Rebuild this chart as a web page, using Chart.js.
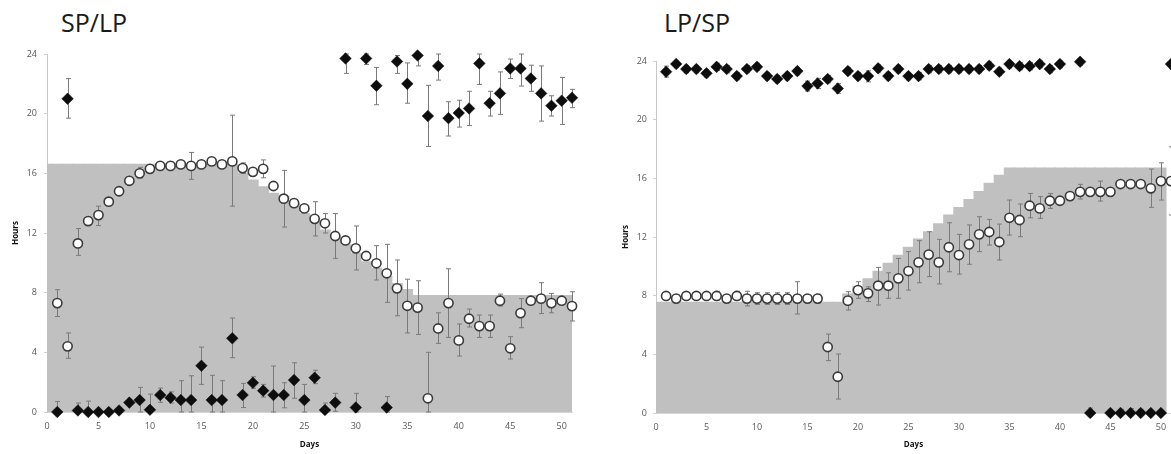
<!DOCTYPE html>
<html>
<head>
<meta charset="utf-8">
<script src="https://cdn.jsdelivr.net/npm/chart.js@4.4.1/dist/chart.umd.min.js"></script>
<style>
  html, body { margin: 0; padding: 0; background: #fff; overflow: hidden; }
  body { width: 1171px; height: 454px; position: relative; overflow: hidden; }
  .ttl { position: absolute; font-family: "Open Sans", sans-serif; font-size: 25px; line-height: 25px; color: #1a1a1a; }
  canvas { position: absolute; top: 0; }
</style>
</head>
<body>
<div class="ttl" style="left:61px; top:9.5px;">SP/LP</div>
<div class="ttl" style="left:664px; top:9.5px;">LP/SP</div>
<canvas id="left" style="left:0px; width:590px; height:454px;" width="590" height="454"></canvas>
<canvas id="right" style="left:600px; width:600px; height:454px;" width="600" height="454"></canvas>
<script>
// ---------- categories ----------
const days = [1,2,3,4,5,6,7,8,9,10,11,12,13,14,15,16,17,18,19,20,21,22,23,24,25,26,27,28,29,30,31,32,33,34,35,36,37,38,39,40,41,42,43,44,45,46,47,48,49,50,51];
const photoDaysLeft = [0,1,2,3,4,5,6,7,8,9,10,11,12,13,14,15,16,17,18,19,20,21,22,23,24,25,26,27,28,29,30,31,32,33,34,35,36,37,38,39,40,41,42,43,44,45,46,47,48,49,50,51];
const photoDaysRight = [0,1,2,3,4,5,6,7,8,9,10,11,12,13,14,15,16,17,18,19,20,21,22,23,24,25,26,27,28,29,30,31,32,33,34,35,36,37,38,39,40,41,42,43,44,45,46,47,48,49,50];
const yTicks = [0,4,8,12,16,20,24];
const xTicks = [0,5,10,15,20,25,30,35,40,45,50];

// ---------- SP/LP (left) ----------
const photoLeft = [16.6,16.6,16.6,16.6,16.6,16.6,16.6,16.6,16.6,16.6,16.6,16.6,16.6,16.6,16.6,16.6,16.6,16.6,16.6,
  16.0,15.55,15.1,14.65,14.45,14.0,13.3,12.8,12.2,11.75,11.2,10.64,10.07,9.63,9.07,8.6,8.2,
  7.8,7.8,7.8,7.8,7.8,7.8,7.8,7.8,7.8,7.8,7.8,7.8,7.8,7.8,7.8,7.8];
const circLeft = [7.3,4.4,11.3,12.8,13.2,14.1,14.8,15.5,16.0,16.3,16.5,16.5,16.6,16.5,16.6,16.8,16.6,16.8,16.35,16.1,
  16.3,15.15,14.3,14.0,13.65,12.95,12.65,11.8,11.5,10.97,10.46,9.97,9.3,8.29,7.12,7.0,0.92,5.6,7.3,4.8,
  6.25,5.76,5.76,7.46,4.27,6.63,7.46,7.6,7.3,7.46,7.1];
const circLeftHi = [8.2,5.3,12.3,13.1,13.8,14.35,15.0,15.75,16.4,16.45,16.65,16.65,16.75,17.4,16.75,16.95,16.75,19.9,16.7,16.25,
  16.9,15.3,16.2,14.15,13.8,14.1,13.3,13.3,11.65,12.47,10.6,11.15,11.24,10.19,8.9,8.8,4.0,6.65,9.6,5.9,
  6.9,6.5,6.5,7.9,5.05,7.6,7.6,8.67,7.95,7.7,8.06];
const circLeftLo = [6.4,3.6,10.5,12.5,12.5,13.85,14.6,15.25,15.7,16.15,16.35,16.35,16.45,15.6,16.45,16.65,16.45,13.8,16.0,15.95,
  15.7,15.0,12.4,13.85,13.5,11.8,12.0,10.3,11.35,9.52,10.3,8.85,7.35,6.45,5.3,5.2,0.0,4.6,5.0,3.75,
  5.7,5.0,5.0,7.1,3.55,5.65,7.3,6.6,6.65,7.25,6.1];
const diaLeft = [0,21.0,0.1,0,0,0,0.1,0.63,0.8,0.15,1.14,0.96,0.8,0.8,3.1,0.8,0.8,4.94,1.14,1.96,
  1.43,1.14,1.14,2.14,0.8,2.3,0.13,0.63,23.7,0.3,23.7,21.87,0.3,23.5,22.0,23.9,19.84,23.2,19.7,20.04,
  20.35,23.37,20.7,21.36,23.03,23.03,22.36,21.36,20.53,20.87,21.07];
const diaLeftHi = [0.7,22.35,0.6,0.73,0.1,0.1,0.3,0.85,1.65,1.2,1.6,1.35,2.1,2.43,4.35,2.46,2.1,6.3,1.92,2.36,
  1.85,3.08,1.96,3.3,1.85,2.8,0.6,1.25,24.0,1.25,24.0,23.1,1.03,23.9,23.4,24.0,21.9,24.0,20.8,20.9,
  21.5,24.0,21.5,22.8,23.66,24.0,23.25,23.2,21.2,22.43,21.63];
const diaLeftLo = [0,19.7,0,0,0,0,0,0.45,0,0,0.65,0.6,0,0,1.85,0,0,3.64,0.3,1.59,
  1.0,0,0.28,0.92,0,1.9,0,0.05,22.7,0,23.3,20.6,0,22.7,20.7,23.2,17.8,22.25,18.5,19.1,
  19.2,21.96,19.84,19.95,22.36,21.85,21.5,19.5,19.84,19.28,20.4];

// ---------- LP/SP (right) ----------
const photoRight = [7.55,7.55,7.55,7.55,7.55,7.55,7.55,7.55,7.55,7.55,7.55,7.55,7.55,7.55,7.55,7.55,7.55,7.55,7.55,
  8.1,8.6,9.15,9.65,10.2,10.75,11.3,11.85,12.35,12.9,13.5,14.0,14.55,15.1,15.65,16.2,
  16.7,16.7,16.7,16.7,16.7,16.7,16.7,16.7,16.7,16.7,16.7,16.7,16.7,16.7,16.7,16.7];
const circRight = [7.98,7.8,7.98,7.98,7.98,7.98,7.8,7.98,7.8,7.8,7.8,7.8,7.8,7.8,7.8,7.8,4.5,2.47,7.66,8.38,
  8.16,8.68,8.68,9.18,9.68,10.27,10.8,10.27,11.3,10.77,11.5,12.18,12.34,11.66,13.31,13.16,14.13,13.95,14.47,14.47,
  14.79,15.08,15.08,15.08,15.08,15.61,15.61,15.61,15.32,15.81,15.81];
const circRightHi = [8.13,7.95,8.13,8.13,8.13,8.3,8.0,8.3,8.3,8.2,8.2,8.2,8.2,8.95,7.95,8.1,5.38,4.02,8.27,8.95,
  8.6,9.93,9.56,10.54,11.0,11.75,12.36,11.84,12.97,12.18,12.82,13.38,13.2,12.88,14.52,14.25,14.97,14.75,14.97,14.65,
  14.95,15.59,15.25,15.81,15.25,15.75,15.75,15.75,16.63,17.06,18.15];
const circRightLo = [7.83,7.65,7.83,7.83,7.83,7.7,7.6,7.7,7.3,7.4,7.4,7.4,7.4,6.75,7.65,7.5,3.57,0.95,7.02,7.82,
  7.6,7.36,7.82,7.82,8.38,8.88,9.3,8.8,9.63,9.47,10.14,11.0,11.45,10.43,12.13,12.02,13.31,13.27,13.95,14.3,
  14.6,14.59,14.9,14.45,14.9,15.45,15.45,15.45,14.02,14.52,13.5];
const diaRight = [23.27,23.8,23.45,23.45,23.16,23.6,23.45,22.97,23.45,23.6,22.97,22.77,22.97,23.31,22.29,22.47,22.77,22.13,23.31,22.97,
  22.97,23.5,22.97,23.45,22.97,22.97,23.45,23.45,23.45,23.45,23.45,23.45,23.68,23.27,23.79,23.65,23.65,23.79,23.45,23.79,
  null,23.95,0,null,0,0,0,0,0,0,23.79];
const diaRightHi = [23.65,24.0,23.7,23.7,23.4,23.85,23.7,23.22,23.7,23.85,23.22,23.02,23.22,23.56,22.63,22.82,23.02,22.45,23.56,23.22,
  23.33,23.75,23.22,23.7,23.22,23.22,23.7,23.7,23.7,23.7,23.7,23.7,23.93,23.52,24.0,23.9,23.9,24.0,23.7,24.0,
  null,24.0,0.34,null,0.2,0.25,0.3,0.2,0.15,0.15,24.0];
const diaRightLo = [22.9,23.55,23.2,23.2,22.91,23.35,23.2,22.72,23.2,23.35,22.72,22.52,22.72,23.06,21.95,22.12,22.52,21.8,23.06,22.72,
  22.58,23.25,22.72,23.2,22.72,22.72,23.2,23.2,23.2,23.2,23.2,23.2,23.43,23.02,23.54,23.4,23.4,23.54,23.2,23.54,
  null,23.7,0,null,0,0,0,0,0,0,23.54];

// ---------- helpers ----------
const toXY = (xs, ys) => xs.map((x, i) => ({ x: x, y: ys[i] }));

const errorBarPlugin = {
  id: 'errorBars',
  afterDatasetDraw(chart, args) {
    if (args.meta.type !== 'bar') return;
    const ctx = chart.ctx, xs = chart.scales.x, ys = chart.scales.y;
    ctx.save();
    ctx.strokeStyle = '#7a7a7a';
    ctx.lineWidth = 1;
    chart.data.datasets.forEach(ds => {
      if (!ds.errHi) return;
      ds.data.forEach((p, i) => {
        if (p.y == null || ds.errHi[i] == null) return;
        const x = Math.round(xs.getPixelForValue(p.x)) + 0.5;
        const yT = ys.getPixelForValue(ds.errHi[i]);
        const yB = ys.getPixelForValue(ds.errLo[i]);
        ctx.beginPath();
        ctx.moveTo(x, yT); ctx.lineTo(x, yB);
        ctx.moveTo(x - 2.5, yT); ctx.lineTo(x + 2.5, yT);
        ctx.moveTo(x - 2.5, yB); ctx.lineTo(x + 2.5, yB);
        ctx.stroke();
      });
    });
    ctx.restore();
  }
};

function makeChart(id, cfg) {
  const tickFont = { family: '"Open Sans", sans-serif', size: 9 };
  const titleFont = { family: '"Open Sans", sans-serif', size: 8, weight: 'bold' };
  return new Chart(document.getElementById(id), {
    type: 'bar',
    data: {
      datasets: [
        {
          type: 'line', label: 'circles', data: toXY(days, cfg.circ),
          errHi: cfg.circHi, errLo: cfg.circLo,
          showLine: false, pointStyle: 'circle', pointRadius: 4.6,
          pointBackgroundColor: '#ffffff', pointBorderColor: '#3a3a3a', pointBorderWidth: 1.6,
          clip: false, order: 1
        },
        {
          type: 'line', label: 'diamonds', data: toXY(days, cfg.dia),
          errHi: cfg.diaHi, errLo: cfg.diaLo,
          showLine: false, pointStyle: 'rectRot', pointRadius: 5.8,
          pointBackgroundColor: '#0d0d0d', pointBorderColor: '#0d0d0d', pointBorderWidth: 0.5,
          clip: false, order: 2
        },
        {
          type: 'bar', label: 'photoperiod', data: toXY(cfg.photoDays, cfg.photo),
          backgroundColor: '#c0c0c0', borderWidth: 0, inflateAmount: 0.6,
          barPercentage: 1.0, categoryPercentage: 1.0, order: 10
        }
      ]
    },
    options: {
      responsive: false, animation: false, events: [],
      layout: { padding: cfg.padding },
      plugins: { legend: { display: false }, tooltip: { enabled: false } },
      scales: {
        x: {
          type: 'linear', min: 0, max: 51, offset: false,
          afterFit: s => { s.height = cfg.xHeight; },
          afterBuildTicks: s => { s.ticks = xTicks.map(v => ({ value: v })); },
          grid: { display: false, drawTicks: false },
          border: { display: true, color: '#d6d6d6', width: 1 },
          ticks: { font: tickFont, color: '#595959', padding: 9, maxRotation: 0, autoSkip: false },
          title: { display: true, text: 'Days', font: titleFont, color: '#111', padding: { top: 0, bottom: 4 } }
        },
        y: {
          type: 'linear', min: 0, max: 24,
          afterFit: s => { s.width = cfg.yWidth; },
          afterBuildTicks: s => { s.ticks = yTicks.map(v => ({ value: v })); },
          grid: { display: true, drawOnChartArea: false, drawTicks: true, tickLength: 3, color: '#cfcfcf' },
          border: { display: true, color: '#c8c8c8', width: 1 },
          ticks: { font: tickFont, color: '#595959', padding: cfg.yPad },
          title: { display: true, text: 'Hours', font: titleFont, color: '#111', padding: { top: cfg.yTitlePad, bottom: 0 } }
        }
      }
    },
    plugins: [errorBarPlugin]
  });
}

makeChart('left', {
  circ: circLeft, circHi: circLeftHi, circLo: circLeftLo,
  dia: diaLeft, diaHi: diaLeftHi, diaLo: diaLeftLo,
  photo: photoLeft, photoDays: photoDaysLeft,
  padding: { top: 54, right: 18, left: 0, bottom: 0 },
  xHeight: 42, yWidth: 47, yPad: 7, yTitlePad: 10.5
});
makeChart('right', {
  circ: circRight, circHi: circRightHi, circLo: circRightLo,
  dia: diaRight, diaHi: diaRightHi, diaLo: diaRightLo,
  photo: photoRight, photoDays: photoDaysRight,
  padding: { top: 61, right: 29, left: 0, bottom: 0 },
  xHeight: 41, yWidth: 56, yPad: 6, yTitlePad: 21
});
</script>
</body>
</html>
